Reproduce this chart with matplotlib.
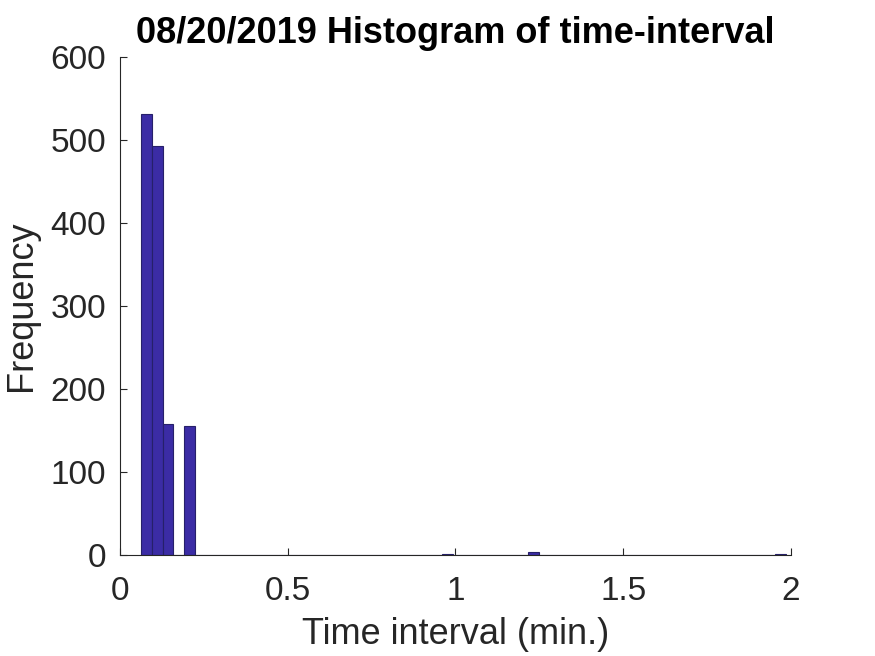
import numpy as np
import matplotlib
matplotlib.use("Agg")
import matplotlib.pyplot as plt

plt.rcParams['font.family'] = ['Liberation Sans', 'DejaVu Sans']

# Histogram: 60 bins between data min and max
bin_start = 0.063
bin_end = 1.985
n_bins = 60
# counts per bin index (others are zero)
bin_index = [0, 1, 2, 4, 28, 36, 59]
bin_counts = [531, 493, 158, 156, 1, 3, 1]

title_text = "08/20/2019 Histogram of time-interval"
xlabel_text = "Time interval (min.)"
ylabel_text = "Frequency"
xticks = [0, 0.5, 1, 1.5, 2]
xtick_labels = ["0", "0.5", "1", "1.5", "2"]
yticks = [0, 100, 200, 300, 400, 500, 600]

edges = np.linspace(bin_start, bin_end, n_bins + 1)
counts = np.zeros(n_bins)
for i, c in zip(bin_index, bin_counts):
    counts[i] = c

fig = plt.figure(figsize=(8.75, 6.56), dpi=100)
ax = fig.add_axes([0.1371, 0.154, 0.7669, 0.759])
ax.bar(edges[:-1], counts, width=np.diff(edges), align='edge',
       color='#3b2ca5', edgecolor='#26206a', linewidth=0.8)
ax.set_xlim(0, 2)
ax.set_ylim(0, 600)
ax.set_xticks(xticks)
ax.set_xticklabels(xtick_labels)
ax.set_yticks(yticks)
ax.tick_params(direction='in', length=5, labelsize=24, colors='#262626', width=0.8)
ax.tick_params(axis='x', pad=15)
ax.tick_params(axis='y', pad=10)
for s in ['top', 'right']:
    ax.spines[s].set_visible(False)
for s in ['left', 'bottom']:
    ax.spines[s].set_color('#262626')
    ax.spines[s].set_linewidth(0.8)
ax.set_title(title_text, fontsize=26, fontweight='bold', pad=10)
ax.set_xlabel(xlabel_text, fontsize=26, color='#262626', labelpad=7)
ax.set_ylabel(ylabel_text, fontsize=26, color='#262626', labelpad=8)
fig.savefig("out.png", dpi=100)
